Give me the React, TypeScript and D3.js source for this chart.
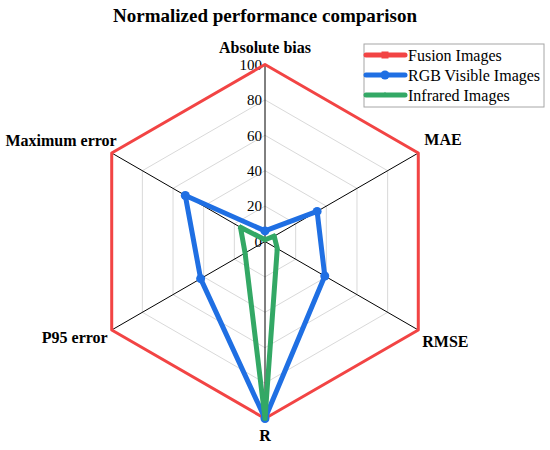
import * as d3 from "d3"

const categories = ["Absolute bias", "MAE", "RMSE", "R", "P95 error", "Maximum error"]
const fusionValues = [100, 100, 100, 100, 100, 100]
const rgbValues = [6, 34, 39, 100, 42, 52]
const infraredValues = [1, 6, 8, 100, 13, 16]
const seriesNames = ["Fusion Images", "RGB Visible Images", "Infrared Images"]
const ticks = [0, 20, 40, 60, 80, 100]

const width = 550
const height = 450
const cx = 265
const cy = 241.5
const radius = 177
const serif = "'Liberation Serif', 'Times New Roman', serif"

const colors = ["#f24444", "#1f6fe3", "#33a865"]
const widths = [3, 5, 5]

// label placement per axis
const labelPos: { dx: number; dy: number; anchor: string }[] = [
  { dx: 0, dy: -12, anchor: "middle" },
  { dx: 6, dy: -8, anchor: "start" },
  { dx: 4, dy: 17, anchor: "start" },
  { dx: 0, dy: 22, anchor: "middle" },
  { dx: -4, dy: 13, anchor: "end" },
  { dx: 5, dy: -7, anchor: "end" },
]

export default function App() {
  const r = d3.scaleLinear().domain([0, 100]).range([0, radius])
  const angle = d3
    .scalePoint<string>()
    .domain(categories)
    .range([0, (2 * Math.PI * (categories.length - 1)) / categories.length])

  const pt = (cat: string, v: number): [number, number] => {
    const a = angle(cat) as number
    return [cx + r(v) * Math.sin(a), cy - r(v) * Math.cos(a)]
  }

  const ring = (v: number) =>
    d3.line().curve(d3.curveLinearClosed)(categories.map((c) => pt(c, v))) as string

  const series = [fusionValues, rgbValues, infraredValues]

  const marker = (i: number, x: number, y: number, key: string) => {
    if (i === 0) return <rect key={key} x={x - 3.5} y={y - 3.5} width={7} height={7} fill={colors[0]} />
    if (i === 1) return <circle key={key} cx={x} cy={y} r={4.5} fill={colors[1]} />
    return (
      <path
        key={key}
        d={d3.symbol(d3.symbolTriangle, 14)() as string}
        transform={`translate(${x},${y})`}
        fill={colors[2]}
      />
    )
  }

  return (
    <svg
      width={width}
      height={height}
      style={{ position: "absolute", left: 0, top: 0, background: "#fff" }}
      fontFamily={serif}
    >
      <text x={265} y={22} textAnchor="middle" fontSize={19} fontWeight="bold">
        Normalized performance comparison
      </text>

      {/* grid rings */}
      {ticks.slice(1, -1).map((t) => (
        <path key={t} d={ring(t)} fill="none" stroke="#d9d9d9" strokeWidth={1} />
      ))}

      {/* spokes */}
      {categories.map((c) => {
        const [x, y] = pt(c, 100)
        return <line key={c} x1={cx} y1={cy} x2={x} y2={y} stroke="#000" strokeWidth={1} />
      })}

      {/* tick labels */}
      {ticks.map((t) => (
        <text key={t} x={cx - 3} y={cy - r(t)} dy="0.35em" textAnchor="end" fontSize={15}>
          {t}
        </text>
      ))}

      {/* axis labels */}
      {categories.map((c, i) => {
        const [x, y] = pt(c, 100)
        const p = labelPos[i]
        return (
          <text
            key={c}
            x={x + p.dx}
            y={y + p.dy}
            textAnchor={p.anchor}
            fontSize={16}
            fontWeight="bold"
          >
            {c}
          </text>
        )
      })}

      {/* series */}
      {series.map((vals, i) => {
        const pts = categories.map((c, j) => pt(c, vals[j]))
        return (
          <g key={seriesNames[i]}>
            <path
              d={d3.line().curve(d3.curveLinearClosed)(pts) as string}
              fill="none"
              stroke={colors[i]}
              strokeWidth={widths[i]}
              strokeLinejoin="round"
            />
            {i > 0 && pts.map(([x, y], j) => marker(i, x, y, `${i}-${j}`))}
          </g>
        )
      })}

      {/* legend */}
      <g transform="translate(364,44)">
        <rect x={0} y={0} width={180} height={63} fill="#fff" stroke="#a6a6a6" strokeWidth={1} />
        {seriesNames.map((s, i) => (
          <g key={s} transform={`translate(0,${11 + i * 20})`}>
            <line x1={2} x2={41} y1={0} y2={0} stroke={colors[i]} strokeWidth={5} strokeLinecap="round" />
            {marker(i, 21, 0, `lg-${i}`)}
            <text x={44} y={0} dy="0.35em" fontSize={16}>
              {s}
            </text>
          </g>
        ))}
      </g>
    </svg>
  )
}
